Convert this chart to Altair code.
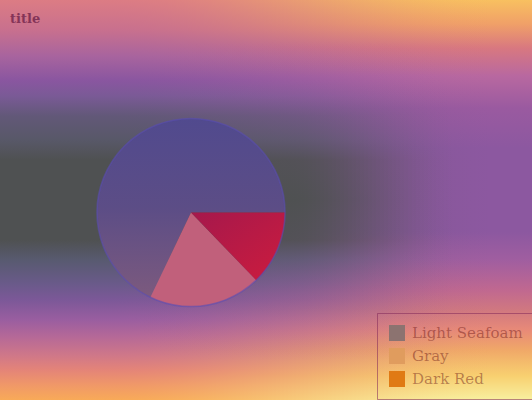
import math
import altair as alt
import pandas as pd

W, H = 532, 400

# ---- chart data -------------------------------------------------------
categories = ["Light Seafoam", "Gray", "Dark Red"]
shares = [67.9, 19.3, 12.8]
stack_rank = [3, 2, 1]
legend_colors = ["#8c7370", "#e09c5e", "#e07a14"]

pie_df = pd.DataFrame({"cat": categories, "share": shares, "rank": stack_rank})

# ---- background styling (vertical colour profiles) --------------------
left_stops = [
    (0.00, "#dc7c84"), (0.075, "#c8708e"), (0.14, "#a8649e"), (0.20, "#8a56a0"),
    (0.24, "#7a5a96"), (0.29, "#625878"), (0.35, "#585868"), (0.40, "#4f5152"),
    (0.60, "#4f5152"), (0.65, "#585a70"), (0.71, "#6a5a8a"), (0.75, "#7c5898"),
    (0.80, "#9a5ea0"), (0.84, "#b46898"), (0.89, "#d07888"), (0.925, "#e48478"),
    (0.9625, "#f09868"), (1.00, "#f8aa58"),
]
right_stops = [
    (0.00, "#f8c060"), (0.06, "#f0a068"), (0.12, "#d87880"), (0.19, "#b868a0"),
    (0.27, "#9a5aa0"), (0.37, "#8c58a0"), (0.58, "#8c58a0"), (0.65, "#a05ea0"),
    (0.725, "#c06890"), (0.775, "#d07880"), (0.825, "#e88a78"), (0.875, "#f0a868"),
    (0.94, "#f8d070"), (1.00, "#f8f0a0"),
]
# how strongly the middle rows keep the dark core further to the right
core_mask = [(0.0, 0.0), (0.1, 0.0), (0.2, 0.15), (0.3, 0.5), (0.4, 0.85), (0.5, 1.0),
             (0.6, 0.85), (0.7, 0.5), (0.8, 0.15), (0.9, 0.0), (1.0, 0.0)]
OUTER_RAMP = (110, 500)
CORE_RAMP = (290, 475)
SW = 4


def hex_rgb(h):
    return tuple(int(h[i:i + 2], 16) for i in (1, 3, 5))


def profile_at(stops, t):
    for (o0, c0), (o1, c1) in zip(stops, stops[1:]):
        if o0 <= t <= o1:
            f = 0 if o1 == o0 else (t - o0) / (o1 - o0)
            a, b = hex_rgb(c0), hex_rgb(c1)
            return tuple(round(a[k] + (b[k] - a[k]) * f) for k in range(3))
    return hex_rgb(stops[-1][1])


def interp(pts, t):
    for (o0, a0), (o1, a1) in zip(pts, pts[1:]):
        if o0 <= t <= o1:
            return a0 + (a1 - a0) * ((t - o0) / (o1 - o0) if o1 > o0 else 0)
    return pts[-1][1]


def masked_left(mask):
    offs = sorted(set([o for o, _ in left_stops] + [o for o, _ in mask]))
    out = []
    for t in offs:
        r, g, b = profile_at(left_stops, t)
        out.append((t, f"rgba({r},{g},{b},{interp(mask, t):.3f})"))
    return out


def smooth(x, x0, x1):
    t = min(1.0, max(0.0, (x - x0) / (x1 - x0)))
    return t * t * (3 - 2 * t)


def grad(stops, x1=0, y1=0, x2=0, y2=1):
    return {"gradient": "linear", "x1": x1, "y1": y1, "x2": x2, "y2": y2,
            "stops": [{"offset": o, "color": c} for o, c in stops]}


def full_rect(fill):
    return alt.Chart(pd.DataFrame({"a": [0]})).mark_rect(fill=fill).encode(
        x=alt.value(0), x2=alt.value(W), y=alt.value(0), y2=alt.value(H)
    )


def strip_layer(df, fill):
    return alt.Chart(df).mark_rect(fill=fill).encode(
        x=alt.X("x0:Q", scale=None, axis=None),
        x2="x1:Q",
        y=alt.value(0),
        y2=alt.value(H),
        opacity=alt.Opacity("a:Q", scale=None, legend=None),
    )


xs = list(range(0, W, SW))
w_outer = [smooth(x + SW / 2, *OUTER_RAMP) for x in xs]
w_core = [smooth(x + SW / 2, *CORE_RAMP) for x in xs]
a_outer = [1 - w for w in w_outer]
a_core = [0.0 if wo <= 0 else max(0.0, 1 - min(1.0, wc / wo)) for wo, wc in zip(w_outer, w_core)]

df_outer = pd.DataFrame({"x0": xs, "x1": [x + SW for x in xs], "a": a_outer})
df_core = pd.DataFrame({"x0": xs, "x1": [x + SW for x in xs], "a": a_core})
df_core = df_core[df_core["a"] > 0.001]

bg_right = full_rect(grad(right_stops))
bg_left = strip_layer(df_outer, grad(left_stops))
bg_core = strip_layer(df_core, grad(masked_left(core_mask)))

big_grad = grad([(0.0, "#514a8e"), (0.5, "#5c4d86"), (1.0, "#7c5a7e")])
red_grad = grad([(0.0, "#a5184c"), (1.0, "#cc1c3e")], 0, 0, 1, 1)
pink = "#c1607b"

CX, CY, R = 191, 212.5, 94

pie = alt.Chart(pie_df).mark_arc(outerRadius=R, innerRadius=0).encode(
    theta=alt.Theta("share:Q", stack=True,
                    scale=alt.Scale(range=[math.pi / 2, math.pi / 2 + 2 * math.pi])),
    order=alt.Order("rank:Q"),
    detail="cat:N",
    x=alt.value(CX),
    y=alt.value(CY),
    fill=alt.value(red_grad, condition=[
        {"test": "datum.cat === 'Light Seafoam'", "value": big_grad},
        {"test": "datum.cat === 'Gray'", "value": pink},
    ]),
)

rim = alt.Chart(pd.DataFrame({"a": [0]})).mark_arc(
    theta=0, theta2=2 * math.pi, outerRadius=R, innerRadius=0,
    fillOpacity=0, stroke="#5a4cb4", strokeWidth=1.6, strokeOpacity=0.55,
).encode(x=alt.value(CX), y=alt.value(CY))

legend_layer = alt.Chart(pie_df).mark_square(opacity=0).encode(
    color=alt.Color(
        "cat:N",
        scale=alt.Scale(domain=categories, range=legend_colors),
        legend=alt.Legend(
            title=None, orient="none", legendX=377, legendY=313,
            symbolType="square", symbolSize=256, symbolStrokeWidth=0, symbolOpacity=1,
            padding=12, rowPadding=7, labelOffset=7,
            labelFont="DejaVu Serif", labelFontSize=15,
            labelColor="#6a1414", labelOpacity=0.45,
            strokeColor="rgba(130,40,90,0.55)",
        ),
    )
)

chart = alt.layer(bg_right, bg_left, bg_core, pie, rim, legend_layer).properties(
    width=W, height=H, padding=0,
    autosize=alt.AutoSizeParams(type="none"),
    title=alt.TitleParams(
        "title", anchor="start", font="DejaVu Serif", fontSize=13, fontWeight="bold",
        color="#843458", dx=10, offset=0, baseline="alphabetic", dy=36,
    ),
).configure_view(stroke=None)

chart.save("out.html", embed_options={"renderer": "svg", "actions": False})
